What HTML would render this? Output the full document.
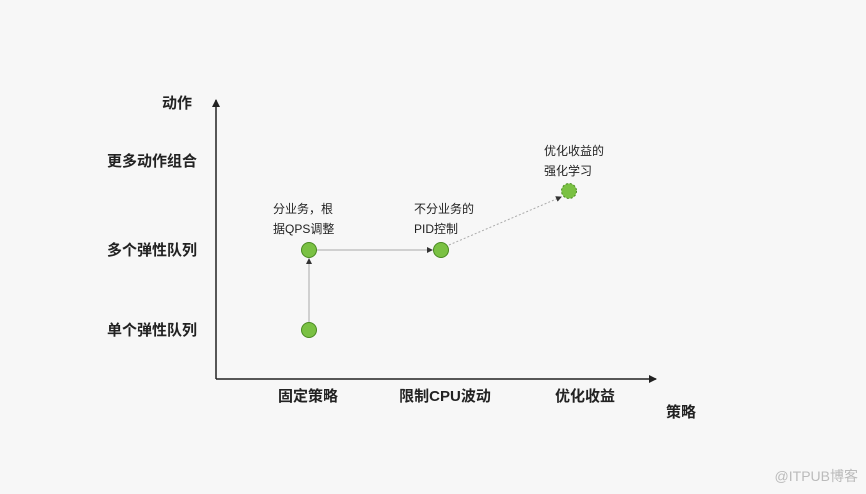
<!DOCTYPE html>
<html><head><meta charset="utf-8"><style>
html,body{margin:0;padding:0;background:#f7f7f7;}
svg{display:block;font-family:"Liberation Sans","Noto Sans CJK SC",sans-serif;}
</style></head><body>
<svg width="866" height="494" viewBox="0 0 866 494">
<rect width="866" height="494" fill="#f7f7f7"/>
<defs>
<marker id="a" markerWidth="8" markerHeight="8" refX="7" refY="4" orient="auto" markerUnits="userSpaceOnUse"><path d="M0,0 L8,4 L0,8 Z" fill="#222"/></marker>
<marker id="s" markerWidth="6" markerHeight="6" refX="5" refY="3" orient="auto" markerUnits="userSpaceOnUse"><path d="M0,0 L6,3 L0,6 Z" fill="#333"/></marker>
</defs>
<line x1="216" y1="379" x2="216" y2="100" stroke="#222" stroke-width="1.5" marker-end="url(#a)"/>
<line x1="216" y1="379" x2="656" y2="379" stroke="#222" stroke-width="1.5" marker-end="url(#a)"/>
<g font-size="15" font-weight="bold" fill="#222" text-anchor="end">
<text x="192" y="108">动作</text>
<text x="197" y="166">更多动作组合</text>
<text x="197" y="255">多个弹性队列</text>
<text x="197" y="335">单个弹性队列</text>
</g>
<g font-size="15" font-weight="bold" fill="#222" text-anchor="middle">
<text x="308" y="401">固定策略</text>
<text x="445" y="401">限制CPU波动</text>
<text x="585" y="401">优化收益</text>
<text x="681" y="417">策略</text>
</g>
<line x1="309" y1="322" x2="309" y2="259" stroke="#aaa" stroke-width="1" marker-end="url(#s)"/>
<line x1="317" y1="250" x2="432" y2="250" stroke="#aaa" stroke-width="1" marker-end="url(#s)"/>
<line x1="449" y1="245" x2="561" y2="197" stroke="#aaa" stroke-width="1" stroke-dasharray="2,2" marker-end="url(#s)"/>
<g fill="#7ac143" stroke="#4a8a22" stroke-width="1">
<circle cx="309" cy="330" r="7.5"/>
<circle cx="309" cy="250" r="7.5"/>
<circle cx="441" cy="250" r="7.5"/>
<circle cx="569" cy="191" r="7.5" stroke-dasharray="2,2"/>
</g>
<g font-size="12" fill="#222">
<text x="273" y="213">分业务，根</text>
<text x="273" y="233">据QPS调整</text>
<text x="414" y="213">不分业务的</text>
<text x="414" y="233">PID控制</text>
<text x="544" y="155">优化收益的</text>
<text x="544" y="175">强化学习</text>
</g>
<text x="858" y="481" font-size="14" fill="#bbb" text-anchor="end">@ITPUB博客</text>
</svg>
</body></html>
